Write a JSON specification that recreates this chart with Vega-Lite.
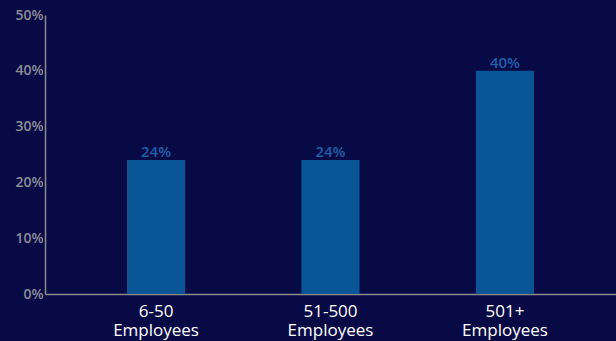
{
  "$schema": "https://vega.github.io/schema/vega-lite/v6.json",
  "width": 571,
  "height": 279,
  "autosize": "none",
  "padding": {"left": 45, "top": 15, "right": 0, "bottom": 47},
  "background": "#080a46",
  "config": {"view": {"stroke": null}, "font": "Open Sans"},
  "data": {"values": [
    {"size": "6-50 Employees", "pct": 0.24},
    {"size": "51-500 Employees", "pct": 0.24},
    {"size": "501+ Employees", "pct": 0.40}
  ]},
  "encoding": {
    "x": {"field": "size", "type": "nominal", "sort": null,
      "scale": {"paddingInner": 0.667, "paddingOuter": 0.47},
      "axis": {"title": null, "labelAngle": 0, "labelExpr": "split(datum.label, ' ')", "labelColor": "#ffffff", "labelFontSize": 17, "labelLineHeight": 19, "labelPadding": 9, "ticks": false, "domainColor": "#8a8a8a", "domainWidth": 1.5}},
    "y": {"field": "pct", "type": "quantitative",
      "scale": {"domain": [0, 0.5]},
      "axis": {"title": null, "values": [0, 0.1, 0.2, 0.3, 0.4, 0.5], "format": ".0%", "labelColor": "#8c8c98", "labelFontSize": 14, "labelFontWeight": 600, "labelPadding": 2, "ticks": false, "grid": false, "domainColor": "#8a8a8a", "domainWidth": 1.5}}
  },
  "layer": [
    {"mark": {"type": "bar", "color": "#0a5596"}},
    {"mark": {"type": "text", "baseline": "bottom", "dy": 0, "color": "#1d5fa8", "fontSize": 15, "fontWeight": 600},
     "encoding": {"text": {"field": "pct", "type": "quantitative", "format": ".0%"}}}
  ]
}
